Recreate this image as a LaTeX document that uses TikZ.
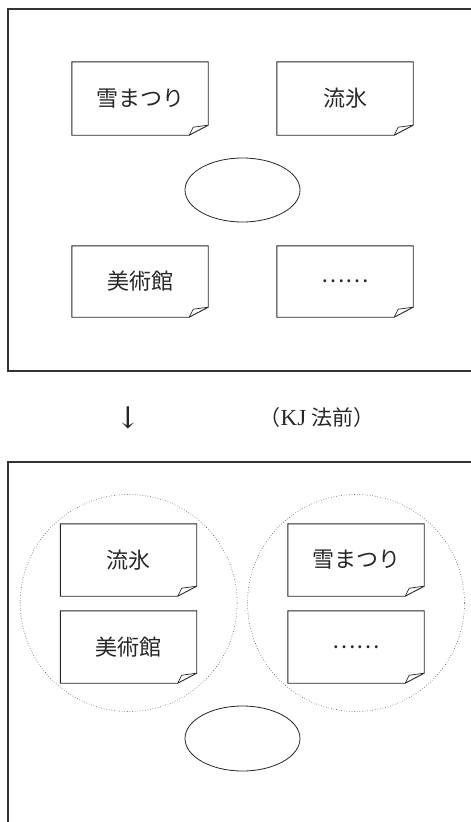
\documentclass[tikz,border=0pt]{standalone}
\usepackage{fontspec}
\newfontfamily\cjk{Noto Sans CJK JP}
\newfontfamily\serifl{Liberation Serif}
\newfontfamily\arrowfont{DejaVu Serif}
\usetikzlibrary{shapes.geometric}
\tikzset{
  frameline/.style={draw=black!80, line width=1.2pt},
  notebox/.style={minimum width=136pt, minimum height=72pt, inner sep=0pt, font=\cjk\fontsize{22}{22}\selectfont, text=black!85},
  group/.style={circle, draw=black!70, dotted, line width=0.6pt, minimum size=217pt, inner sep=0pt},
  blank/.style={ellipse, draw=black!85, line width=0.8pt, minimum width=115pt, minimum height=64pt, inner sep=0pt},
  noteline/.style={draw=black!85, line width=0.9pt, line join=miter},
  label/.style={font=\cjk\fontsize{21}{21}\selectfont, text=black!85}
}
\newcommand{\drawnote}[1]{%
  \draw[noteline] ([xshift=-19pt]#1.south east) -- (#1.south west) -- (#1.north west) -- (#1.north east) -- ([yshift=10pt]#1.south east) -- cycle;
  \draw[noteline, line width=0.7pt] ([xshift=-19pt]#1.south east) -- ([xshift=-15pt,yshift=8pt]#1.south east) -- ([yshift=10pt]#1.south east);
}
\begin{document}
\begin{tikzpicture}[x=1pt,y=-1pt]
\useasboundingbox (0,0) rectangle (471,822);
% top frame
\coordinate (t1) at (472,9);
\coordinate (t2) at (8,9);
\coordinate (t3) at (8,371);
\coordinate (t4) at (472,371);
\draw[frameline] (t1) -- (t2) -- (t3) -- (t4);
% top notes
\node[notebox, minimum height=73pt] (a1) at (140,98.5) {雪まつり};
\node[notebox, minimum height=73pt] (a2) at (345,98.5) {流氷};
\node[notebox, minimum height=71pt] (a3) at (140,281.5) {美術館};
\node[notebox, minimum height=71pt] (a4) at (345,281.5) {……};
\drawnote{a1}\drawnote{a2}\drawnote{a3}\drawnote{a4}
\node[blank] (e1) at (242.5,190) {};
% middle labels
\node[font=\arrowfont\fontsize{30}{30}\selectfont, text=black!85] (arr) at (128,418) {↓};
\node[label] (kj) at (317,418) {（{\serifl\fontsize{23}{23}\selectfont KJ}\hspace{5pt}法前）};
% bottom frame
\coordinate (b1) at (472,462);
\coordinate (b2) at (8,462);
\coordinate (b3) at (8,823);
\draw[frameline] (b1) -- (b2) -- (b3);
% groups
\node[group] (g1) at (128.7,603) {};
\node[group] (g2) at (356,603) {};
\node[notebox] (c1) at (128.5,560) {流氷};
\node[notebox] (c2) at (128.5,647) {美術館};
\node[notebox] (c3) at (356,560) {雪まつり};
\node[notebox] (c4) at (356,647) {……};
\drawnote{c1}\drawnote{c2}\drawnote{c3}\drawnote{c4}
\node[blank, minimum height=65pt] (e2) at (242.5,738.5) {};
\end{tikzpicture}
\end{document}
